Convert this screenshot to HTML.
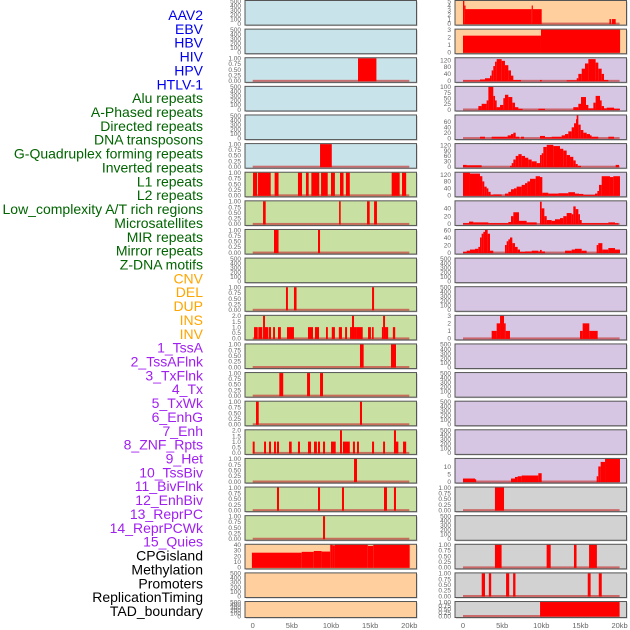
<!DOCTYPE html>
<html><head><meta charset="utf-8">
<style>
html,body{margin:0;padding:0;background:#fff;width:630px;height:630px;overflow:hidden}
svg{display:block}
text{font-family:"Liberation Sans",sans-serif}
</style></head>
<body>
<svg id="chart" width="630" height="630" viewBox="0 0 630 630"></svg>
<script>
// ---- data (kb start, kb end, value) ----
const trackLabels=["AAV2","EBV","HBV","HIV","HPV","HTLV-1","Alu repeats","A-Phased repeats","Directed repeats","DNA transposons","G-Quadruplex forming repeats","Inverted repeats","L1 repeats","L2 repeats","Low_complexity A/T rich regions","Microsatellites","MIR repeats","Mirror repeats","Z-DNA motifs","CNV","DEL","DUP","INS","INV","1_TssA","2_TssAFlnk","3_TxFlnk","4_Tx","5_TxWk","6_EnhG","7_Enh","8_ZNF_Rpts","9_Het","10_TssBiv","11_BivFlnk","12_EnhBiv","13_ReprPC","14_ReprPCWk","15_Quies","CPGisland","Methylation","Promoters","ReplicationTiming","TAD_boundary"];
const xTickValues=[0,5,10,15,20];
const xTickLabels=["0","5kb","10kb","15kb","20kb"];

const midRow2=[[13.45,15.8,1]];
const midRow5=[[8.6,10.1,1]];
const midRow6=[[0.04,0.57,1],[0.68,2.3,1],[2.8,3.3,1],[5.78,6.3,1],[6.8,7.15,1],[7.49,8.5,1],[8.73,9.58,1],[10.0,10.5,1],[11.15,11.6,1],[11.9,12.4,1],[17.75,18.77,1],[19.07,19.6,1]];
const midRow7=[[1.32,1.66,1],[11.03,11.24,1],[14.6,14.94,1],[15.5,15.87,1]];
const midRow8=[[2.72,3.3,1],[8.34,8.6,1]];
const midRow10=[[4.25,4.5,1],[5.27,5.6,1],[15.24,15.5,1]];
const midRow11=[[0.17,0.64,1],[0.72,1.23,1],[1.32,1.57,2],[1.57,2.0,1],[2.08,2.34,1],[2.6,2.85,1],[3.23,3.6,1],[4.38,5.27,1],[7.06,7.7,1],[7.95,8.47,1],[9.36,9.6,1],[10.1,10.5,1],[11.0,11.4,1],[11.8,12.05,1],[12.43,12.68,1],[12.68,12.94,2],[12.94,13.2,1],[13.2,14.05,1],[14.73,15.1,1],[15.24,15.45,1],[16.5,16.65,1],[16.65,16.9,2],[16.9,17.3,1],[17.9,18.2,1]];
const midRow12=[[13.7,14.17,1],[17.66,18.3,1]];
const midRow13=[[3.4,3.9,1],[6.94,7.32,1],[8.6,8.98,1]];
const midRow14=[[0.42,0.77,1],[13.7,13.96,1]];
const midRow15=[[0.0,0.25,1],[1.45,1.7,1],[2.08,2.34,1],[2.72,2.97,1],[3.1,3.36,1],[4.64,4.98,1],[5.78,6.04,1],[7.06,7.45,1],[7.83,8.2,1],[8.34,8.6,1],[8.98,9.24,1],[10.0,10.6,1],[11.15,11.4,2],[11.53,12.4,1],[12.8,13.06,1],[13.32,13.57,1],[15.24,15.5,1],[16.65,16.9,1],[18.04,18.3,2],[18.3,18.6,1],[19.2,19.6,1]];
const midRow16=[[12.94,13.32,1]];
const midRow17=[[3.1,3.36,1],[8.34,8.6,1],[11.4,11.66,1],[16.77,17.15,1],[18.04,18.3,1]];
const midRow18=[[8.98,9.24,1]];
const midRow19=[[-0.1,6.26,26],[6.26,7.8,27.5],[7.8,8.8,29],[8.8,9.9,28],[9.9,10.2,40],[10.2,10.5,39],[10.5,14.7,40],[14.7,15.4,38],[15.4,20.05,40]];

const rightRow0=[[0,0.17,5],[0.17,0.3,4],[0.3,8.77,3.2],[8.77,8.9,4],[8.9,10.05,3.2],[18.7,18.9,1],[19.0,19.5,1]];
const rightRow1=[[0,9.96,2.2],[9.96,20.06,3]];
const rightRow2=[[0,2.17,2],[2.17,2.81,8],[2.81,3.45,15],[3.45,3.66,30],[3.66,3.87,60],[3.87,4.09,85],[4.09,4.3,110],[4.3,4.94,125],[4.94,5.36,115],[5.36,5.79,90],[5.79,6.13,60],[6.13,6.43,30],[6.43,7.41,5],[9.83,10.05,5],[13.24,14.52,3],[14.52,14.73,15],[14.73,15.16,40],[15.16,15.58,70],[15.58,16.01,100],[16.01,16.94,125],[16.94,17.28,105],[17.28,17.71,70],[17.71,18.01,40],[18.01,18.56,5]];
const rightRow3=[[1.96,2.38,15],[2.38,3.02,25],[3.02,3.24,40],[3.24,3.87,100],[3.87,4.09,60],[4.09,4.3,40],[4.3,4.73,10],[4.73,5.15,20],[5.15,5.36,50],[5.36,5.79,65],[5.79,6.3,55],[6.3,6.64,30],[6.64,7.07,10],[7.07,7.62,3],[9.62,10.47,3],[14.09,14.73,10],[14.73,15.07,25],[15.07,15.71,55],[15.71,16.01,20],[16.01,16.65,5],[16.65,16.94,30],[16.94,17.5,60],[17.5,17.71,40],[17.71,18.01,15],[18.01,18.35,5],[18.35,19.29,8],[19.29,20.05,3]];
const rightRow4=[[2.17,2.81,5],[3.66,5.7,5],[5.7,6.13,10],[6.13,6.43,15],[6.43,6.73,20],[6.73,7.2,5],[7.41,7.79,5],[9.83,10.47,8],[10.47,11.32,3],[11.32,12.6,5],[12.6,13.03,10],[13.03,13.45,15],[13.45,13.88,25],[13.88,14.18,40],[14.18,14.43,55],[14.43,14.52,70],[14.52,14.73,85],[14.73,15.03,50],[15.03,15.37,30],[15.37,15.79,20],[15.79,16.22,15],[16.22,16.43,10],[16.43,17.28,5],[18.56,19.29,5]];
const rightRow5=[[0,0.47,10],[0.47,2.38,8],[6.0,6.22,5],[6.22,6.43,20],[6.43,6.73,40],[6.73,7.07,60],[7.07,7.49,70],[7.49,7.92,60],[7.92,8.34,50],[8.34,8.77,40],[8.77,9.41,30],[9.41,9.83,20],[9.83,10.05,65],[10.05,10.26,75],[10.26,10.69,110],[10.69,11.54,122],[11.54,12.39,115],[12.39,12.81,100],[12.81,13.24,90],[13.24,13.67,65],[13.67,14.09,55],[14.09,14.39,35],[14.39,14.65,15],[14.65,15.07,5],[19.5,19.92,10]];
const rightRow6=[[0,0.89,130],[0.89,2.17,125],[2.17,2.47,110],[2.47,2.72,80],[2.72,3.02,50],[3.02,3.24,40],[3.24,3.53,20],[3.53,3.87,2],[3.87,4.94,5],[5.36,5.79,10],[5.79,6.13,20],[6.13,6.51,35],[6.51,6.85,40],[6.85,7.49,50],[7.49,7.92,60],[7.92,8.22,70],[8.22,8.56,80],[8.56,9.28,95],[9.28,9.83,110],[9.83,10.13,105],[10.13,10.9,15],[10.9,12.18,10],[12.18,13.45,12],[13.45,14.3,18],[14.3,14.82,10],[14.82,15.37,8],[15.37,16.86,2],[16.86,17.16,10],[17.16,17.37,25],[17.37,17.71,60],[17.71,18.77,110],[18.77,19.2,105],[19.2,20.05,110]];
const rightRow7=[[0,0.77,2],[0.77,1.32,6],[1.32,3.24,4],[3.24,5.79,2],[5.79,6.13,5],[6.13,6.43,20],[6.43,7.15,30],[7.15,8.13,8],[8.13,9.41,4],[9.83,10.05,57],[10.05,10.39,40],[10.39,10.69,20],[10.69,11.32,10],[11.32,11.75,8],[11.75,12.39,12],[12.39,12.81,15],[12.81,13.24,20],[13.24,13.88,28],[13.88,14.09,25],[14.09,14.39,45],[14.39,14.73,38],[14.73,14.94,25],[14.94,15.16,10],[15.16,18.56,2],[18.56,19.41,4],[19.41,19.84,2]];
const rightRow8=[[0,0.47,2],[0.47,0.89,5],[0.89,1.53,8],[1.53,1.96,10],[1.96,2.17,15],[2.17,2.38,40],[2.38,2.6,50],[2.6,2.81,55],[2.81,3.15,60],[3.15,3.45,50],[3.45,3.87,5],[5.36,5.58,20],[5.58,5.79,30],[5.79,6.0,35],[6.0,6.3,40],[6.3,6.64,25],[6.64,6.98,15],[6.98,7.28,8],[7.28,7.92,2],[7.92,8.77,3],[8.77,9.62,5],[9.62,9.83,3],[9.83,10.05,7],[10.05,10.47,3],[13.03,13.88,5],[13.88,14.3,8],[14.3,15.16,10],[15.16,15.79,5],[17.07,17.28,20],[17.28,17.8,25],[17.8,18.56,8],[18.56,19.41,12],[19.41,20.05,8]];
const rightRow11=[[3.66,4.3,1],[4.3,4.73,2],[4.73,5.24,3],[5.24,5.45,2],[5.45,6.0,1],[14.94,15.28,1],[15.28,16.13,2],[16.13,17.2,1]];
const rightRow16=[[0,1.53,2],[1.53,1.66,1.5],[6.13,6.64,2],[6.64,6.98,3],[6.98,7.49,3.5],[7.49,9.62,4],[9.62,10.05,5.5],[17.07,17.28,3.5],[17.28,17.58,10],[17.58,18.14,13],[18.14,20.05,15]];
const rightRow17=[[4.08,5.24,1]];
const rightRow19=[[4.08,4.93,1],[10.68,11.2,1],[14.17,14.5,1],[16.1,17.1,1]];
const rightRow20=[[2.39,2.81,1],[3.3,3.6,1],[5.5,5.9,1],[6.4,6.7,1],[15.93,16.3,1],[17.34,17.72,1]];
const rightRow21=[[9.84,20.0,1]];

// ---- styles / layout ----
const BLUE="#c8e4ea",GREEN="#c8e0a1",ORANGE="#ffd09e",PURPLE="#d6c6e3",GRAY="#d2d2d2";
const T01=[0,0.25,0.5,0.75,1], T01L=["0.00","0.25","0.50","0.75","1.00"];
const TE=[0,100,200,300,400,500];
const T02=[0,0.5,1,1.5,2], T02L=["0.0","0.5","1.0","1.5","2.0"];
function E(bg){return {bg:bg,data:null,ymax:500,ticks:TE,tl:TE.map(String)};}
function B(bg,d){return {bg:bg,data:d,ymax:1,ticks:T01,tl:T01L};}
function H(bg,d,ymax,ticks){return {bg:bg,data:d,ymax:ymax,ticks:ticks,tl:ticks.map(String)};}
const midCfg=[E(BLUE),E(BLUE),B(BLUE,midRow2),E(BLUE),E(BLUE),B(BLUE,midRow5),
 B(GREEN,midRow6),B(GREEN,midRow7),B(GREEN,midRow8),E(GREEN),B(GREEN,midRow10),
 {bg:GREEN,data:midRow11,ymax:2,ticks:T02,tl:T02L},B(GREEN,midRow12),B(GREEN,midRow13),B(GREEN,midRow14),
 {bg:GREEN,data:midRow15,ymax:2,ticks:T02,tl:T02L},B(GREEN,midRow16),B(GREEN,midRow17),B(GREEN,midRow18),
 H(ORANGE,midRow19,40,[0,10,20,30,40]),E(ORANGE),E(ORANGE)];
const rightCfg=[H(ORANGE,rightRow0,5,[0,1,2,3,4,5]),H(ORANGE,rightRow1,3,[0,1,2,3]),
 H(PURPLE,rightRow2,130,[0,40,80,120]),H(PURPLE,rightRow3,100,[0,25,50,75,100]),
 H(PURPLE,rightRow4,84,[0,20,40,60]),H(PURPLE,rightRow5,126,[0,30,60,90,120]),
 H(PURPLE,rightRow6,130,[0,40,80,120]),H(PURPLE,rightRow7,58,[0,20,40]),
 H(PURPLE,rightRow8,60,[0,20,40,60]),E(PURPLE),E(PURPLE),H(PURPLE,rightRow11,3,[0,1,2,3]),
 E(PURPLE),E(PURPLE),E(PURPLE),E(PURPLE),H(PURPLE,rightRow16,15,[0,5,10]),
 B(GRAY,rightRow17),E(GRAY),B(GRAY,rightRow19),B(GRAY,rightRow20),B(GRAY,rightRow21)];

const NS="http://www.w3.org/2000/svg";
const svg=document.getElementById('chart');
function el(tag,attrs,parent){const e=document.createElementNS(NS,tag);for(const k in attrs)e.setAttribute(k,attrs[k]);(parent||svg).appendChild(e);return e;}
const ROWH=28.62;
function rowTop(i){return 0.5+i*ROWH;}
function rowH(i){return i===21?16:24.6;}
const cols=[{x0:245,x1:416.5,zero:252.7,cfg:midCfg,name:'middle'},{x0:455,x1:626.5,zero:463,cfg:rightCfg,name:'right'}];
const PXKB=7.83;

// labels
trackLabels.forEach((t,i)=>{
  let c='#0000ee';
  if(i>=6&&i<19)c='#006400'; else if(i>=19&&i<24)c='#ffa500'; else if(i>=24&&i<39)c='#a020f0'; else if(i>=39)c='#000';
  const tx=el('text',{x:203,y:15+i*13.86+5,'text-anchor':'end','font-size':'14',fill:c});
  tx.textContent=t;
  
  
});

cols.forEach(col=>{
  const xs=kb=>col.zero+kb*PXKB;
  col.cfg.forEach((cfg,i)=>{
    const top=rowTop(i),h=rowH(i),bot=top+h;
    const g=el('g',{});
    
    
    el('rect',{x:col.x0+1,y:top+1,width:col.x1-col.x0,height:h,fill:'#999',opacity:0.6},g);
    const bg=el('rect',{x:col.x0,y:top,width:col.x1-col.x0,height:h,fill:cfg.bg},g);
    
    
    const y0=bot-1.5, yTop=top+0.5;
    const ys=v=>y0-(v/cfg.ymax)*(y0-yTop);
    if(cfg.data){
      if(cfg!==midCfg[19]){
        const bl=el('rect',{x:xs(0),y:y0-1,width:xs(20)-xs(0),height:2,fill:'#c83c3c',opacity:0.7},g);
        
        
      }
      cfg.data.forEach(d=>{
        const x1=Math.max(xs(d[0]),col.x0),x2=Math.min(xs(d[1]),col.x1);
        const yv=Math.max(ys(d[2]),top);
        const r=el('rect',{x:x1,y:yv,width:Math.max(x2-x1,1.2),height:y0+0.5-yv,fill:'#ff0000'},g);
        
        
      });
    }
    el('rect',{x:col.x0,y:top,width:col.x1-col.x0,height:h,fill:'none',stroke:'#555','stroke-width':1},g);
    cfg.ticks.forEach((v,k)=>{
      const tt=el('text',{x:col.x0-4,y:ys(v)+2.3,'text-anchor':'end','font-size':'6.5',fill:'#666'},g);
      tt.textContent=cfg.tl[k];
      
      
    });
  });
  xTickValues.forEach((v,k)=>{
    const t=el('text',{x:xs(v),y:628,'text-anchor':'middle','font-size':'7.5',fill:'#666'});
    t.textContent=xTickLabels[k];
    
    
  });
});
</script>
</body></html>
